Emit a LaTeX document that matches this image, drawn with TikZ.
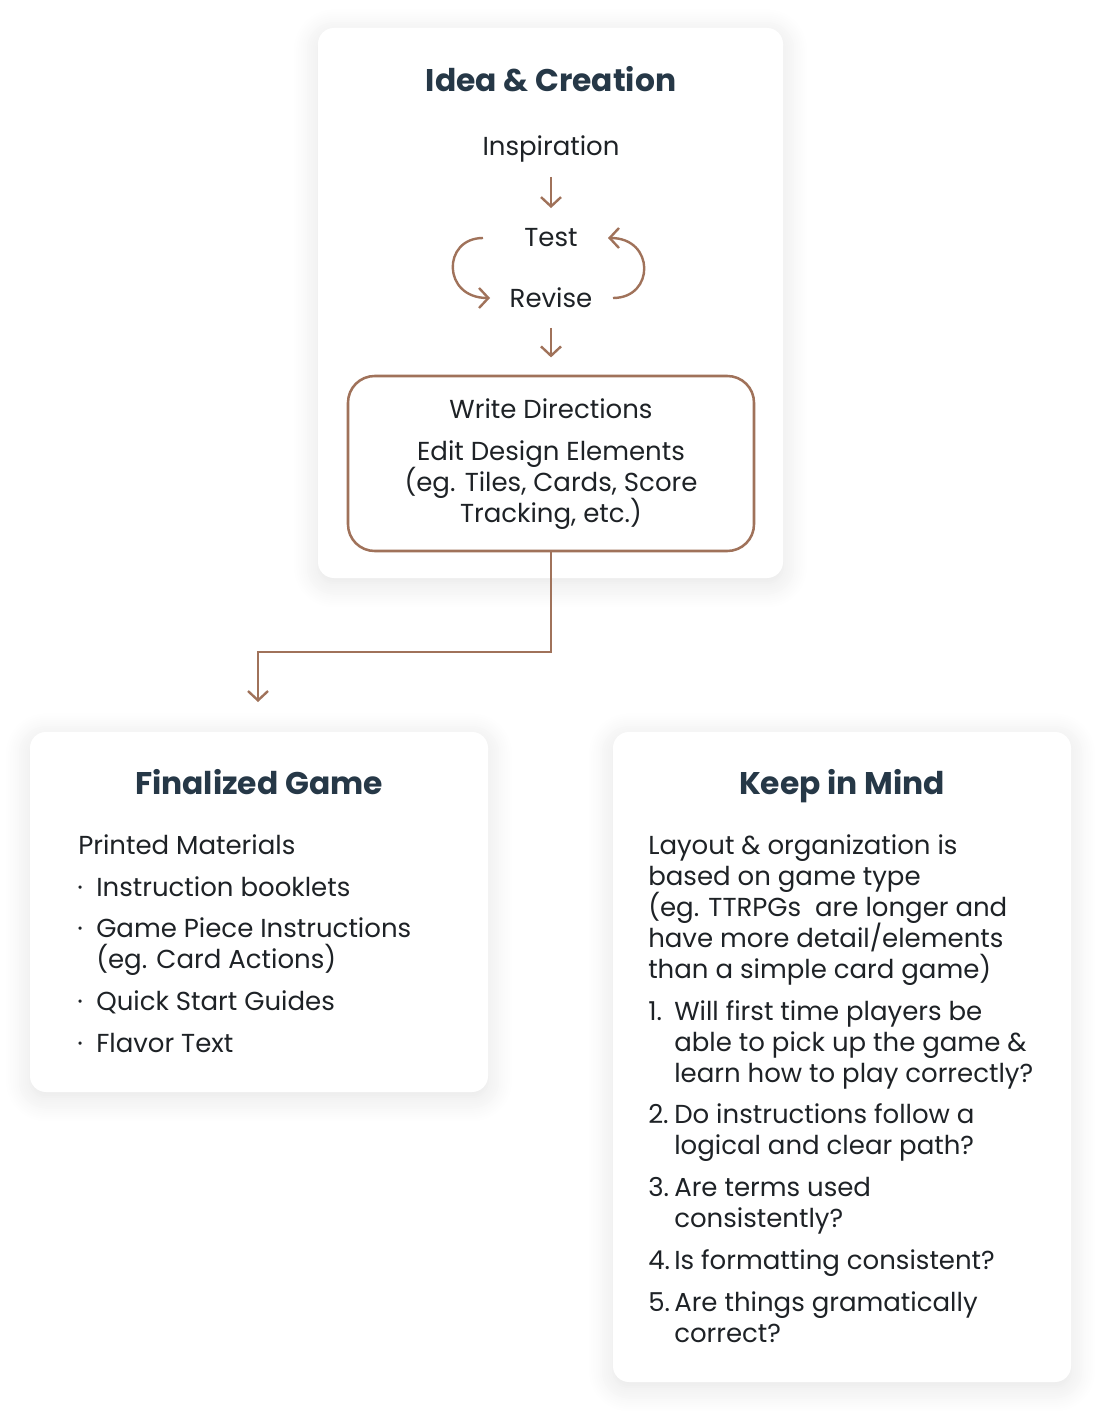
\documentclass[tikz,border=0pt]{standalone}
\usepackage{fontspec}
\setmainfont{Poppins}
\usetikzlibrary{arrows.meta,shadows.blur}
\definecolor{umber}{HTML}{A0725A}
\definecolor{slate}{HTML}{263847}
\definecolor{ink}{HTML}{1E2226}
\tikzset{
  card/.style={fill=white, rounded corners=12pt, inner sep=0pt,
    blur shadow={shadow xshift=0pt, shadow yshift=-4pt, shadow blur radius=18pt,
      shadow blur steps=12, shadow opacity=11}},
  heading/.style={font=\fontsize{23.5}{28}\selectfont\bfseries, text=slate, inner sep=0pt, anchor=base},
  flowtext/.style={font=\fontsize{19.5}{23}\selectfont, text=ink, inner sep=0pt,
    text height=14pt, text depth=4pt, anchor=base},
  itemtext/.style={font=\fontsize{19.5}{23}\selectfont, text=ink, inner sep=0pt, anchor=base west},
  flow/.style={draw=umber, line width=1.8pt, -{Straight Barb[length=7pt,width=15pt]}},
}
\begin{document}
\begin{tikzpicture}[x=0.75pt,y=-0.75pt]
\useasboundingbox (0,0) rectangle (1102,1419);
% cards
\node[card, minimum width=348.75pt, minimum height=412.5pt] (ideacard) at (550.5,303) {};
\node[card, minimum width=343.5pt, minimum height=270pt] (gamecard) at (259,912) {};
\node[card, minimum width=343.5pt, minimum height=487.5pt] (mindcard) at (842,1057) {};
% idea & creation
\node[heading] (ideahead) at (551,92) {Idea \& Creation};
\node[flowtext] (insp) at (551,156) {Inspiration};
\node[flowtext] (test) at (551,247) {Test};
\node[flowtext] (revise) at (551,307) {Revise};
\node[draw=umber, line width=1.9pt, rounded corners=20pt, minimum width=304.5pt,
  minimum height=131.25pt, inner sep=0pt] (directions) at (551,463.5) {};
\node[flowtext] (write) at (551,418) {Write Directions};
\node[flowtext] (edit1) at (551,460) {Edit Design Elements};
\node[flowtext] (edit2) at (551,491) {(eg. Tiles, Cards, Score};
\node[flowtext] (edit3) at (551,522) {Tracking, etc.)};
\draw[flow, shorten <=11.5pt, shorten >=15pt] (insp) -- (test);
\draw[flow, shorten <=11.5pt, shorten >=13pt] (revise) -- (directions);
\coordinate (loopa) at (483,238);
\coordinate (loopb) at (490,298);
\coordinate (loopc) at (613,298);
\coordinate (loopd) at (608,238);
\draw[flow] (loopa) .. controls +(-41,0) and +(-48,0) .. (loopb);
\draw[flow] (loopc) .. controls +(42,0) and +(47,0) .. (loopd);
\coordinate (gametop) at (258,702);
\draw[flow] (directions.south) -- ++(0,100) -| (gametop);
% finalized game
\node[heading] (gamehead) at (259,794) {Finalized Game};
\node[itemtext] (printed) at (78,854) {Printed Materials};
\node[itemtext] (dot1) at (77,896) {·};
\node[itemtext] (booklets) at (96,896) {Instruction booklets};
\node[itemtext] (dot2) at (77,937) {·};
\node[itemtext] (pieces1) at (96,937) {Game Piece Instructions};
\node[itemtext] (pieces2) at (96,968) {(eg. Card Actions)};
\node[itemtext] (dot3) at (77,1010) {·};
\node[itemtext] (quick) at (96,1010) {Quick Start Guides};
\node[itemtext] (dot4) at (77,1052) {·};
\node[itemtext] (flavor) at (96,1052) {Flavor Text};
% keep in mind
\node[heading] (mindhead) at (842,794) {Keep in Mind};
\node[itemtext] (lay1) at (648,854) {Layout \& organization is};
\node[itemtext] (lay2) at (648,885) {based on game type};
\node[itemtext] (lay3) at (648,916) {(eg. TTRPGs\ \ are longer and};
\node[itemtext] (lay4) at (648,947) {have more detail/elements};
\node[itemtext] (lay5) at (648,978) {than a simple card game)};
\node[itemtext] (num1) at (648,1020) {1.};
\node[itemtext] (q1a) at (674,1020) {Will first time players be};
\node[itemtext] (q1b) at (674,1051) {able to pick up the game \&};
\node[itemtext] (q1c) at (674,1082) {learn how to play correctly?};
\node[itemtext] (num2) at (648,1123) {2.};
\node[itemtext] (q2a) at (674,1123) {Do instructions follow a};
\node[itemtext] (q2b) at (674,1154) {logical and clear path?};
\node[itemtext] (num3) at (648,1196) {3.};
\node[itemtext] (q3a) at (674,1196) {Are terms used};
\node[itemtext] (q3b) at (674,1227) {consistently?};
\node[itemtext] (num4) at (648,1269) {4.};
\node[itemtext] (q4a) at (674,1269) {Is formatting consistent?};
\node[itemtext] (num5) at (648,1311) {5.};
\node[itemtext] (q5a) at (674,1311) {Are things gramatically};
\node[itemtext] (q5b) at (674,1342) {correct?};
\end{tikzpicture}
\end{document}
